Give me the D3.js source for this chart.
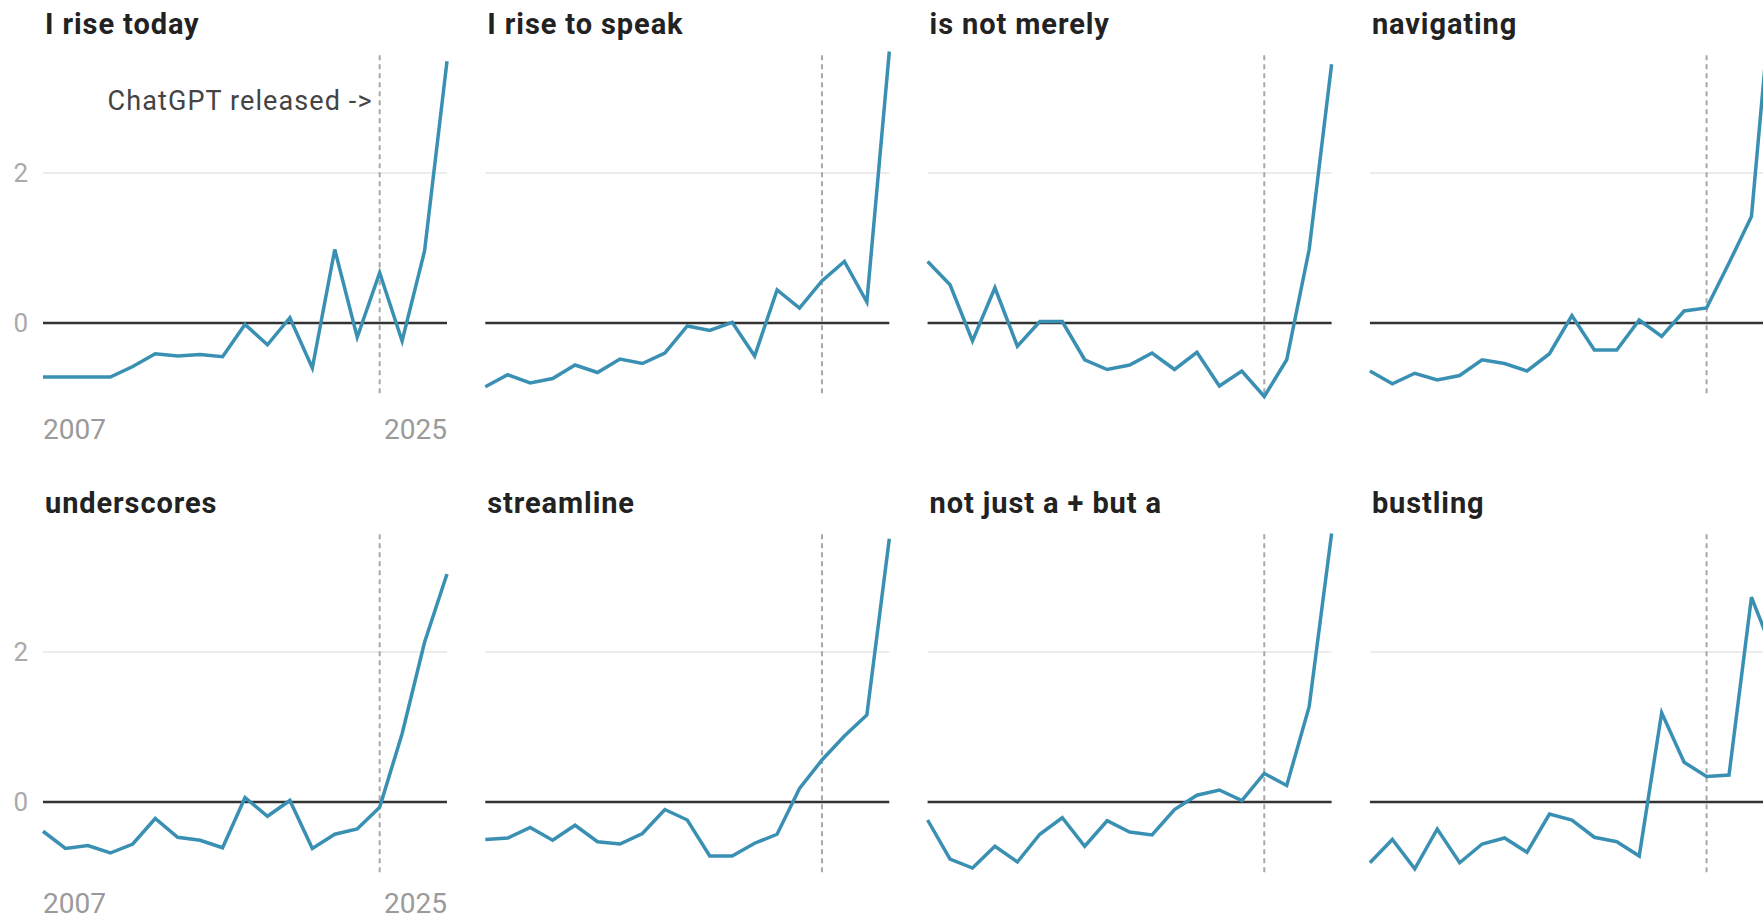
<!DOCTYPE html>
<html>
<head>
<meta charset="utf-8">
<script src="https://cdn.jsdelivr.net/npm/d3@7"></script>
<style>
  body { margin: 0; background: #fff; }
  svg { display: block; font-family: Roboto, 'Noto Sans', sans-serif; }
</style>
</head>
<body>
<div id="app"></div>
<script>
let years = d3.range(2007, 2026)
let yearLabels = ['2007', '2025']
let yTicks = [0, 2]
let releaseYear = 2022

let titles = ['I rise today', 'I rise to speak', 'is not merely', 'navigating',
  'underscores', 'streamline', 'not just a + but a', 'bustling']

let riseToday = [-0.72, -0.72, -0.72, -0.72, -0.58, -0.41, -0.44, -0.42, -0.45, -0.02, -0.29, 0.07, -0.60, 0.98, -0.19, 0.67, -0.24, 0.96, 3.49]
let riseToSpeak = [-0.85, -0.69, -0.80, -0.74, -0.56, -0.66, -0.48, -0.54, -0.40, -0.04, -0.10, 0.01, -0.44, 0.44, 0.20, 0.56, 0.82, 0.28, 3.62]
let notMerely = [0.82, 0.51, -0.24, 0.47, -0.31, 0.02, 0.02, -0.49, -0.62, -0.56, -0.40, -0.62, -0.39, -0.84, -0.64, -0.98, -0.49, 0.98, 3.45]
let navigating = [-0.64, -0.81, -0.67, -0.76, -0.70, -0.49, -0.54, -0.64, -0.41, 0.10, -0.36, -0.36, 0.04, -0.18, 0.16, 0.20, 0.80, 1.42, 4.75]
let underscores = [-0.39, -0.62, -0.58, -0.68, -0.56, -0.22, -0.47, -0.51, -0.61, 0.06, -0.19, 0.02, -0.62, -0.43, -0.36, -0.07, 0.91, 2.13, 3.04]
let streamline = [-0.50, -0.48, -0.34, -0.51, -0.31, -0.53, -0.56, -0.42, -0.10, -0.24, -0.72, -0.72, -0.55, -0.43, 0.18, 0.56, 0.88, 1.16, 3.51]
let notJust = [-0.24, -0.76, -0.88, -0.59, -0.80, -0.43, -0.21, -0.59, -0.25, -0.40, -0.44, -0.10, 0.09, 0.16, 0.02, 0.38, 0.22, 1.27, 3.58]
let bustling = [-0.81, -0.50, -0.89, -0.36, -0.81, -0.56, -0.48, -0.67, -0.16, -0.24, -0.47, -0.53, -0.72, 1.19, 0.53, 0.34, 0.36, 2.73, 1.97]

let series = [riseToday, riseToSpeak, notMerely, navigating, underscores, streamline, notJust, bustling]

const width = 1763
const height = 921
const panelW = 404
const colStep = 442.3
const rowStep = 479
const left = 43

const svg = d3.select('#app').append('svg')
  .attr('width', width)
  .attr('height', height)

const x = d3.scaleLinear().domain([2007, 2025]).range([0, panelW])
const y = d3.scaleLinear().domain([-1, 3.6]).range([398, 53])

let line = d3.line()
  .x((d, i) => x(years[i]))
  .y(d => y(d))

series.forEach((values, k) => {
  let col = k % 4
  let row = Math.floor(k / 4)
  let g = svg.append('g')
    .attr('transform', `translate(${left + col * colStep},${row * rowStep})`)

  g.append('text')
    .attr('x', 2)
    .attr('y', 34)
    .attr('font-size', 29)
    .attr('font-weight', 'bold')
    .attr('letter-spacing', 0.9)
    .attr('fill', '#222')
    .text(titles[k])

  g.selectAll('.grid')
    .data(yTicks.filter(t => t !== 0))
    .enter()
    .append('line')
    .attr('x1', 0)
    .attr('x2', panelW)
    .attr('y1', d => y(d))
    .attr('y2', d => y(d))
    .attr('stroke', '#e6e6e6')
    .attr('stroke-width', 1.5)

  g.append('line')
    .attr('x1', x(releaseYear))
    .attr('x2', x(releaseYear))
    .attr('y1', y(3.57))
    .attr('y2', y(-0.99))
    .attr('stroke', '#a8a8a8')
    .attr('stroke-width', 2)
    .attr('stroke-dasharray', '5,4')

  g.append('line')
    .attr('x1', 0)
    .attr('x2', panelW)
    .attr('y1', y(0))
    .attr('y2', y(0))
    .attr('stroke', '#333')
    .attr('stroke-width', 2.5)

  g.append('path')
    .datum(values)
    .attr('d', line)
    .attr('fill', 'none')
    .attr('stroke', '#3a90b3')
    .attr('stroke-width', 3.5)
    .attr('stroke-linejoin', 'miter')

  if (col === 0) {
    g.selectAll('.ylab')
      .data(yTicks)
      .enter()
      .append('text')
      .attr('x', -15)
      .attr('y', d => y(d))
      .attr('dy', '0.36em')
      .attr('text-anchor', 'end')
      .attr('font-size', 26)
      .attr('fill', '#aaa')
      .text(d => d)

    // bottom row labels sit a bit higher so they stay inside the frame
    g.selectAll('.xlab')
      .data(yearLabels)
      .enter()
      .append('text')
      .attr('x', d => x(+d))
      .attr('y', row === 0 ? 439 : 434)
      .attr('text-anchor', (d, i) => i === 0 ? 'start' : 'end')
      .attr('font-size', 28)
      .attr('fill', '#9a9a9a')
      .text(d => d)
  }

  if (k === 0) {
    g.append('text')
      .attr('x', x(releaseYear) - 7)
      .attr('y', 110)
      .attr('text-anchor', 'end')
      .attr('font-size', 27)
      .attr('letter-spacing', 1.1)
      .attr('fill', '#444')
      .text('ChatGPT released ->')
  }
})
</script>
</body>
</html>
